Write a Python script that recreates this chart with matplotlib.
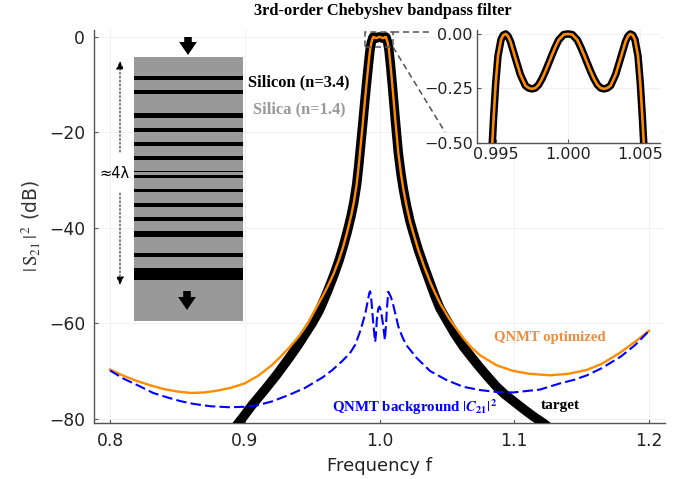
"""3rd-order Chebyshev bandpass filter figure with layer stack and passband inset."""
import matplotlib as mpl

mpl.use("Agg")
import matplotlib.pyplot as plt
from matplotlib.lines import Line2D
from matplotlib.patches import FancyArrowPatch, Rectangle

W, H = 695, 479
BLACK = "#000000"
ORANGE = "#ff8c00"
ORANGE_TEXT = "#f28a3c"
BLUE = "#0000ff"
GRID = "#f1f1f1"
SPINE = "#555555"
STACK = "#999999"
SERIF = "Liberation Serif"

# passband shared by the target and the optimized curve
band_f = [0.9930, 0.9940, 0.99474, 0.99484, 0.99498, 0.99514, 0.99535, 0.99550, 0.99567, 0.99583, 0.99600,
          0.99634, 0.99669, 0.99704, 0.99727, 0.99750, 0.99773, 0.99796, 0.99820, 0.99843, 0.99866, 0.99889,
          0.99912, 0.99935, 0.99970,
          1.00000, 1.00030, 1.00065, 1.00088, 1.00111, 1.00134, 1.00157, 1.00180, 1.00204, 1.00227, 1.00250,
          1.00273, 1.00296, 1.00331, 1.00366, 1.00400, 1.00417, 1.00433, 1.00450, 1.00465, 1.00486, 1.00502,
          1.00516, 1.00526, 1.0060, 1.0070]
band_db = [-2.7, -1.1, -0.50, -0.377, -0.225, -0.10, -0.026, -0.006, 0.0, -0.010, -0.034,
           -0.11, -0.186, -0.237, -0.248, -0.252, -0.248, -0.233, -0.205, -0.171, -0.134, -0.096,
           -0.060, -0.028, -0.003,
           0.0, -0.003, -0.028, -0.060, -0.096, -0.134, -0.171, -0.205, -0.233, -0.248, -0.252,
           -0.248, -0.237, -0.186, -0.11, -0.034, -0.010, 0.0, -0.006, -0.026, -0.10, -0.225,
           -0.377, -0.50, -1.1, -2.7]

target_left_f = [0.885, 0.890, 0.895, 0.900, 0.905, 0.910, 0.9164, 0.924, 0.9336, 0.940, 0.945,
                 0.950, 0.955, 0.958, 0.962, 0.966, 0.970, 0.973, 0.976, 0.979, 0.981, 0.983, 0.9845, 0.986,
                 0.9875, 0.989, 0.9905, 0.9918]
target_left_db = [-85.0, -83.0, -81.0, -79.2, -77.3, -75.6, -73.4, -70.7, -67.0, -64.4, -62.2,
                  -60.0, -57.5, -55.6, -52.9, -50.0, -46.8, -44.0, -40.9, -37.4, -34.6, -31.0, -27.2, -22.8,
                  -18.4, -13.8, -9.4, -5.8]
target_right_f = [1.0082, 1.0095, 1.011, 1.0125, 1.014, 1.016, 1.0177, 1.020, 1.0226, 1.025, 1.0288, 1.033, 1.0375,
                  1.041, 1.0449, 1.050, 1.056, 1.0622, 1.068, 1.074, 1.080, 1.0869, 1.093, 1.0993, 1.107, 1.1141,
                  1.1215, 1.130]
target_right_db = [-6.0, -10.0, -15.0, -19.8, -24.4, -28.8, -31.9, -35.3, -38.6, -41.0, -44.6, -48.0, -51.5,
                   -54.2, -56.9, -59.4, -62.3, -64.9, -67.0, -69.1, -71.1, -73.3, -74.9, -76.3, -78.0, -79.5,
                   -80.9, -82.8]

opt_left_f = [0.800, 0.810, 0.820, 0.830, 0.840, 0.850, 0.860, 0.870, 0.880, 0.890, 0.900, 0.910, 0.920, 0.927,
              0.9336, 0.940, 0.946, 0.9509, 0.958, 0.962, 0.966, 0.970, 0.973, 0.976, 0.979, 0.981, 0.983, 0.9845,
              0.986, 0.9875, 0.989, 0.9905, 0.9918]
opt_left_db = [-69.7, -71.0, -72.1, -73.0, -73.8, -74.3, -74.6, -74.5, -74.1, -73.5, -72.6, -71.0, -68.8, -66.9,
               -64.9, -62.8, -60.4, -57.9, -54.2, -52.0, -49.6, -46.6, -44.0, -40.9, -37.4, -34.6, -31.0, -27.2,
               -22.8, -18.4, -13.8, -9.4, -5.8]
opt_right_f = [1.0082, 1.0095, 1.011, 1.0125, 1.014, 1.016, 1.0177, 1.020, 1.0226, 1.025, 1.0288, 1.033, 1.0375,
               1.041, 1.0449, 1.0523, 1.0622, 1.068, 1.0746, 1.0869, 1.0993, 1.1116, 1.1265, 1.140, 1.1537, 1.165,
               1.1784, 1.190, 1.200]
opt_right_db = [-6.0, -10.0, -15.0, -19.8, -24.4, -28.8, -31.9, -35.3, -38.6, -41.0, -44.6, -48.0, -51.3,
                -53.5, -55.8, -59.3, -63.1, -65.0, -66.7, -68.8, -70.0, -70.6, -70.9, -70.6, -69.8, -68.5,
                -66.2, -63.8, -61.6]

bg_f = [0.800, 0.810, 0.822, 0.832, 0.842, 0.852, 0.862, 0.875, 0.889, 0.900, 0.909, 0.920, 0.933, 0.945, 0.958, 0.965,
        0.972, 0.978, 0.982, 0.986, 0.9895, 0.9915, 0.9925, 0.993, 0.9937, 0.9945, 0.9955, 0.9968, 0.9974, 0.998,
        0.9990, 1.000, 1.0012, 1.0025, 1.004, 1.0048, 1.0055, 1.0065, 1.0085, 1.0105, 1.014, 1.017, 1.020, 1.0277,
        1.0375, 1.0498, 1.062, 1.0746, 1.087, 1.099, 1.119, 1.134, 1.145, 1.154, 1.165, 1.179, 1.190, 1.200]
bg_db = [-69.9, -71.6, -73.2, -74.6, -75.5, -76.3, -76.9, -77.4, -77.6, -77.5, -77.2, -76.4, -75.0, -73.5, -71.3, -69.8,
         -68.0, -66.3, -64.5, -61.4, -57.9, -55.0, -53.6, -53.3, -54.3, -57.0, -60.5, -63.9, -62.2, -59.3,
         -57.0, -56.5, -57.5, -60.0, -63.5, -60.5, -57.0, -53.4, -54.5, -56.5, -60.7, -62.9, -64.6, -67.3,
         -70.0, -71.9, -73.3, -74.0, -74.4, -74.5, -73.9, -72.6, -71.8, -70.9, -69.4, -67.0, -64.5, -61.6]

x_ticks = [0.8, 0.9, 1.0, 1.1, 1.2]
y_ticks = [0, -20, -40, -60, -80]
inset_x_ticks = [0.995, 1.000, 1.005]
inset_y_ticks = [0.0, -0.25, -0.5]

# silicon layers in the stack: centre and thickness, measured from the top of the block
layer_centers = [21.0, 35.0, 58.7, 73.0, 87.0, 101.0, 114.5, 119.5, 133.5, 147.7, 161.7, 176.7, 198.3, 216.7]
layer_thick = [4.0, 3.7, 4.7, 4.0, 4.0, 4.0, 1.5, 3.3, 3.7, 4.0, 4.0, 6.3, 3.7, 11.7]
STACK_HEIGHT = 264


def px_rect(left, top, right, bottom):
    return [left / W, 1 - bottom / H, (right - left) / W, (bottom - top) / H]


def px_xy(x, y):
    return x / W, 1 - y / H


def style_axis(ax):
    for name, spine in ax.spines.items():
        spine.set_visible(name in ("left", "bottom"))
        spine.set_color(SPINE)
        spine.set_linewidth(1.0)
    ax.grid(True, color=GRID, linewidth=0.8)
    ax.set_axisbelow(True)
    ax.tick_params(direction="in", length=3, width=0.8, color=SPINE, pad=6.5)


plt.rcParams["font.family"] = "DejaVu Sans"

fig = plt.figure(figsize=(W / 100, H / 100), dpi=100, facecolor="white")

target_f = target_left_f + band_f + target_right_f
target_db = target_left_db + band_db + target_right_db
opt_f = opt_left_f + band_f + opt_right_f
opt_db = opt_left_db + band_db + opt_right_db

ax = fig.add_axes(px_rect(94, 30, 665, 423))
style_axis(ax)
ax.plot(target_f, target_db, color=BLACK, lw=6.8, solid_joinstyle="round", zorder=3)
ax.plot(opt_f, opt_db, color=ORANGE, lw=1.7, solid_joinstyle="round", zorder=4)
ax.plot(bg_f, bg_db, color=BLUE, lw=1.5, dashes=(5, 2), zorder=5)
ax.set_xlim(0.7881, 1.2119)
ax.set_ylim(-80.9, 1.45)
ax.set_xticks(x_ticks)
ax.set_xticklabels([f"{v:.1f}" for v in x_ticks])
ax.set_yticks(y_ticks)
ax.set_yticklabels(["0" if v == 0 else f"\u2212{abs(v)}" for v in y_ticks])
ax.tick_params(labelsize=12.3, colors="#222222")
ax.tick_params(axis="both", color=SPINE)
ax.set_xlabel("Frequency f", fontsize=13, color="#222222", labelpad=5)
ax.set_ylabel(r"$|\,\mathrm{S}_{21}\,|^{\,2}$ (dB)", fontsize=13.5, color="#333333", labelpad=5,
              math_fontfamily="stix")

# inset on the passband ripple
axi = fig.add_axes(px_rect(477, 30, 660, 143), zorder=3)
style_axis(axi)
axi.plot(target_f, target_db, color=BLACK, lw=5.4, solid_joinstyle="round", zorder=3)
axi.plot(opt_f, opt_db, color=ORANGE, lw=1.9, solid_joinstyle="round", zorder=4)
axi.set_xlim(0.99368, 1.00639)
axi.set_ylim(-0.5, 0.018)
axi.set_xticks(inset_x_ticks)
axi.set_xticklabels([f"{v:.3f}" for v in inset_x_ticks])
axi.set_yticks(inset_y_ticks)
axi.set_yticklabels(["0.00", "\u22120.25", "\u22120.50"])
axi.tick_params(labelsize=11.5, colors="#222222", pad=3)
axi.tick_params(axis="both", color=SPINE)

# zoom box and its leaders
x0, y0 = px_xy(365, 32)
x1, y1 = px_xy(393, 47)
dash = (0, (4, 2.5))
fig.add_artist(Rectangle((x0, y1), x1 - x0, y0 - y1, transform=fig.transFigure, fill=False,
                         edgecolor="#555555", lw=1.1, ls=dash, zorder=6))
xa, ya = px_xy(430, 32)
fig.add_artist(Line2D([x1, xa], [y0, ya], color="#555555", lw=1.1, ls=dash, zorder=6))
xb, yb = px_xy(445, 132)
fig.add_artist(Line2D([x1, xb], [y1, yb], color="#555555", lw=1.1, ls=dash, zorder=6))

# layer stack sketch
axs = fig.add_axes(px_rect(134, 57, 243, 321), zorder=4, facecolor=STACK)
axs.set_xlim(0, 1)
axs.set_ylim(STACK_HEIGHT, 0)
axs.axis("off")
axs.add_patch(Rectangle((0, 0), 1, STACK_HEIGHT, facecolor=STACK, edgecolor="none"))
axs.barh(layer_centers, [1.0] * len(layer_centers), height=layer_thick, left=0, color=BLACK, linewidth=0)

arrow_fat = dict(arrowstyle="simple,head_length=0.55,head_width=0.75,tail_width=0.32", color=BLACK, lw=0)
for tail, head in (((188, 37), (188, 55)), ((187, 291), (187, 310))):
    fig.add_artist(FancyArrowPatch(px_xy(*tail), px_xy(*head), transform=fig.transFigure,
                                   mutation_scale=17, shrinkA=0, shrinkB=0, zorder=7, **arrow_fat))
arrow_thin = dict(arrowstyle="-|>,head_length=0.35,head_width=0.16", color=BLACK, lw=0.7, ls=(0, (2, 2)))
for tail, head in (((120, 152), (120, 61)), ((120, 193), (120, 285))):
    fig.add_artist(FancyArrowPatch(px_xy(*tail), px_xy(*head), transform=fig.transFigure,
                                   mutation_scale=14, shrinkA=0, shrinkB=0, zorder=7, **arrow_thin))


def note(x, y, text, color=BLACK, size=9.5, family=SERIF, weight="bold", ha="left", math="stix"):
    fig.text(*px_xy(x, y), text, color=color, fontsize=size, family=family, fontweight=weight,
             ha=ha, va="center", zorder=8, math_fontfamily=math)


note(383, 11, "3rd-order Chebyshev bandpass filter", size=11.8, ha="center")
note(248, 82, "Silicon (n=3.4)", size=11.8)
note(253, 109, "Silica (n=1.4)", color="#999999", size=11.8)
note(494, 338, "QNMT optimized", color=ORANGE_TEXT, size=10.6)
note(541, 406, "target", size=11)
note(332, 407, r"QNMT background $|\mathbfit{C}_{\mathbf{21}}|^{\mathbf{2}}$", color=BLUE, size=10.7)
note(115, 173, "\u22484\u03bb", size=10.5, family="DejaVu Sans", weight="normal", ha="center")

fig.savefig("out.png", dpi=100)
plt.close(fig)
